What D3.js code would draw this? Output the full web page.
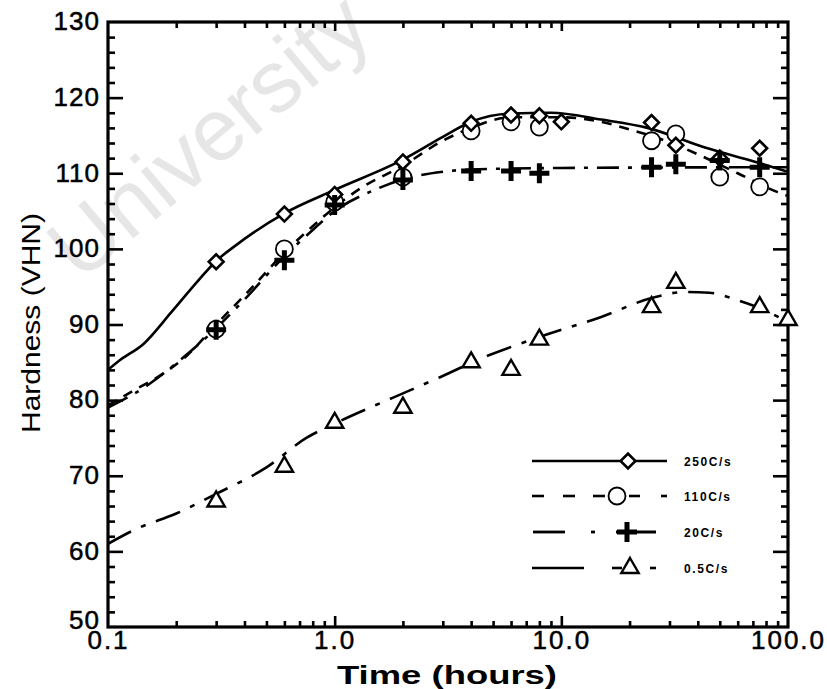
<!DOCTYPE html>
<html>
<head>
<meta charset="utf-8">
<script src="https://cdn.jsdelivr.net/npm/d3@7"></script>
<style>
  html, body { margin: 0; padding: 0; background: #fff; }
  svg { display: block; font-family: "Liberation Sans", Arial, sans-serif; }
  .tick text { fill: #000; }
</style>
</head>
<body>
<svg id="chart" width="827" height="689"></svg>
<script>
// ----- data -----
var seriesNames = ['250C/s', '110C/s', '20C/s', '0.5C/s'];
var xTickLabels = ['0.1', '1.0', '10.0', '100.0'];
var yTickValues = [50, 60, 70, 80, 90, 100, 110, 120, 130];

// measured points [time h, hardness]
var pts250 = [[0.3, 98.3], [0.6, 104.6], [1, 107.2], [2, 111.5], [4, 116.6], [6, 117.7], [8, 117.6], [10, 116.8], [25, 116.7], [32, 113.7], [50, 112], [75, 113.3]];
var pts110 = [[0.3, 89.4], [0.6, 100], [1, 106.2], [2, 109.5], [4, 115.6], [6, 116.8], [8, 116.1], [25, 114.3], [32, 115.2], [50, 109.5], [75, 108.2]];
var pts20 = [[0.3, 89.3], [0.6, 98.5], [1, 105.8], [2, 109.1], [4, 110.3], [6, 110.3], [8, 110], [25, 110.8], [32, 111.2], [50, 111.7], [75, 110.8]];
var pts05 = [[0.3, 66.6], [0.6, 71.2], [1, 77], [2, 79], [4, 85], [6, 84], [8, 88], [25, 92.3], [32, 95.5], [75, 92.3], [100, 90.6]];

// fitted curves drawn through the points
var fit250 = [[0.1, 84], [0.113, 85.3], [0.143, 87.4], [0.19, 91.6], [0.25, 95.8], [0.3, 98.4], [0.36, 100.3], [0.6, 104.7], [1, 107.8], [2, 111.8], [3, 114.8], [4, 116.8], [6, 117.9], [9, 118], [15, 117.1], [24, 116], [43, 113.4], [72, 111.5], [100, 110.2]];
var fit110 = [[0.1, 79.3], [0.13, 81.3], [0.175, 83.5], [0.225, 86], [0.3, 90], [0.42, 94.5], [0.6, 99.5], [0.8, 103], [1, 105.5], [1.3, 108], [2, 111], [3, 114.3], [4, 116], [6, 117.4], [10, 117.4], [15, 116.8], [20, 115.8], [30, 114.1], [40, 112.5], [60, 110], [90, 107.5], [100, 107]];
var fit20 = [[0.1, 79], [0.15, 82], [0.21, 85.4], [0.3, 89.5], [0.4, 93.3], [0.6, 99], [0.8, 102.5], [1, 105], [1.5, 107.8], [2, 109.2], [3, 110.2], [4, 110.5], [10, 110.7], [100, 110.8]];
var fit05 = [[0.1, 61], [0.134, 63], [0.2, 65], [0.3, 67.6], [0.5, 71.1], [0.75, 75], [1, 76.9], [1.8, 80.3], [2.9, 83], [4.5, 85.6], [8.3, 88.5], [15, 91], [25, 93.5], [35, 94.3], [45, 94.2], [60, 93.2], [80, 91.8], [100, 90.3]];

var L = 108, R = 788, T = 22, B = 627;

var svg = d3.select('#chart');
var x = d3.scaleLog().domain([0.1, 100]).range([L, R]);
var y = d3.scaleLinear().domain([50, 130]).range([B, T]);

// scan watermark
svg.append('text')
  .attr('transform', 'translate(80,283) rotate(-40)')
  .attr('font-size', 88)
  .attr('fill', '#e6e6e6')
  .text('University');

// clip for curves
svg.append('clipPath').attr('id', 'plotclip')
  .append('rect').attr('x', L).attr('y', T).attr('width', R - L).attr('height', B - T);

// ----- axes (ticks pointing inward on all four sides) -----
var yMinor = d3.range(52, 130, 2).filter(function (v) { return v % 10 !== 0; });
var yMajor = yTickValues.slice(1, -1);
var xMinor = [], xMajor = [1, 10];
[0.1, 1, 10].forEach(function (d) { for (var k = 2; k <= 9; k++) xMinor.push(+(d * k).toPrecision(3)); });

function tickAxis(axis, vals, size, tx, ty) {
  var g = svg.append('g').attr('transform', 'translate(' + tx + ',' + ty + ')')
    .call(axis.tickValues(vals).tickSize(size).tickFormat(''));
  g.select('.domain').remove();
  g.selectAll('line').attr('stroke', '#000').attr('stroke-width', 2.6);
  return g;
}
tickAxis(d3.axisRight(y), yMinor, 7, L, 0);
tickAxis(d3.axisRight(y), yMajor, 15, L, 0);
tickAxis(d3.axisLeft(y), yMinor, 7, R, 0);
tickAxis(d3.axisLeft(y), yMajor, 15, R, 0);
tickAxis(d3.axisTop(x), xMinor, 6, 0, B);
tickAxis(d3.axisTop(x), xMajor, 11, 0, B);
tickAxis(d3.axisBottom(x), xMinor, 6, 0, T);
tickAxis(d3.axisBottom(x), xMajor, 9, 0, T);

// tick labels
var gyl = svg.append('g').attr('transform', 'translate(' + L + ',0)')
  .call(d3.axisLeft(y).tickValues(yTickValues).tickSize(0).tickPadding(8));
gyl.select('.domain').remove();
gyl.selectAll('text').attr('font-size', 26).attr('font-family', '"Liberation Sans", Arial, sans-serif')
  .attr('letter-spacing', 1).attr('stroke', '#000').attr('stroke-width', 0.5)
  .attr('dy', function (d) { return d === 50 ? '0.05em' : '0.3em'; });

var gxl = svg.append('g').attr('transform', 'translate(0,' + B + ')')
  .call(d3.axisBottom(x).tickValues([0.1, 1, 10, 100]).tickSize(0).tickPadding(4)
    .tickFormat(function (d, i) { return xTickLabels[i]; }));
gxl.select('.domain').remove();
gxl.selectAll('text').attr('font-size', 26).attr('font-family', '"Liberation Sans", Arial, sans-serif')
  .attr('letter-spacing', 2).attr('stroke', '#000').attr('stroke-width', 0.5);

// frame
svg.append('rect').attr('x', L).attr('y', T).attr('width', R - L).attr('height', B - T)
  .attr('fill', 'none').attr('stroke', '#000').attr('stroke-width', 3.2);

// axis titles
svg.append('text')
  .attr('transform', 'translate(40,323) rotate(-90)')
  .attr('text-anchor', 'middle').attr('font-size', 25)
  .attr('textLength', 220).attr('lengthAdjust', 'spacingAndGlyphs')
  .text('Hardness (VHN)');
svg.append('text')
  .attr('x', 447).attr('y', 684)
  .attr('text-anchor', 'middle').attr('font-size', 25).attr('font-weight', 'bold')
  .attr('textLength', 220).attr('lengthAdjust', 'spacingAndGlyphs')
  .text('Time (hours)');

// ----- curves -----
var line = d3.line()
  .x(function (d) { return x(d[0]); })
  .y(function (d) { return y(d[1]); })
  .curve(d3.curveMonotoneX);

var dashes = ['none', '10,8', '22,9,4,9', '26,11,5,11'];
var fits = [fit250, fit110, fit20, fit05];
var gC = svg.append('g').attr('clip-path', 'url(#plotclip)');
fits.forEach(function (f, i) {
  gC.append('path').attr('d', line(f))
    .attr('fill', 'none').attr('stroke', '#000').attr('stroke-width', 2.6)
    .attr('stroke-dasharray', dashes[i]);
});

// ----- markers -----
function marker(g, kind, cx, cy) {
  if (kind === 0) {
    g.append('path').attr('d', d3.symbol().type(d3.symbolSquare).size(110)())
      .attr('transform', 'translate(' + cx + ',' + cy + ') rotate(45)')
      .attr('fill', '#fff').attr('stroke', '#000').attr('stroke-width', 2.6);
  } else if (kind === 1) {
    g.append('circle').attr('cx', cx).attr('cy', cy).attr('r', 8.5)
      .attr('fill', '#fff').attr('stroke', '#000').attr('stroke-width', 1.8);
  } else if (kind === 2) {
    g.append('path').attr('d', 'M' + (cx - 10) + ',' + cy + 'H' + (cx + 10) + 'M' + cx + ',' + (cy - 10) + 'V' + (cy + 10))
      .attr('stroke', '#000').attr('stroke-width', 5);
  } else {
    g.append('path').attr('d', d3.symbol().type(d3.symbolTriangle).size(130)())
      .attr('transform', 'translate(' + cx + ',' + cy + ')')
      .attr('fill', '#fff').attr('stroke', '#000').attr('stroke-width', 2.4);
  }
}
var ptsAll = [pts110, pts250, pts20, pts05];
var kinds = [1, 0, 2, 3];
var gM = svg.append('g');
ptsAll.forEach(function (p, i) {
  p.forEach(function (d) { marker(gM, kinds[i], x(d[0]), y(d[1])); });
});

// ----- legend -----
var legY = [461, 496, 532, 568];
var gL = svg.append('g');
seriesNames.forEach(function (name, i) {
  var ly = legY[i];
  if (i === 0) {
    gL.append('line').attr('x1', 532).attr('x2', 667).attr('y1', ly).attr('y2', ly)
      .attr('stroke', '#000').attr('stroke-width', 2.6);
  } else if (i === 1) {
    [[532, 544], [563, 575], [593, 605], [629, 640], [661, 667]].forEach(function (s) {
      gL.append('line').attr('x1', s[0]).attr('x2', s[1]).attr('y1', ly).attr('y2', ly)
        .attr('stroke', '#000').attr('stroke-width', 2.6);
    });
  } else if (i === 2) {
    [[533, 565], [591, 595], [616, 656]].forEach(function (s) {
      gL.append('line').attr('x1', s[0]).attr('x2', s[1]).attr('y1', ly).attr('y2', ly)
        .attr('stroke', '#000').attr('stroke-width', 2.8);
    });
  } else {
    [[532, 584], [612, 622], [650, 656]].forEach(function (s) {
      gL.append('line').attr('x1', s[0]).attr('x2', s[1]).attr('y1', ly).attr('y2', ly)
        .attr('stroke', '#000').attr('stroke-width', 2.6);
    });
  }
  var mx = [628, 617, 627, 630][i];
  marker(gL, i, mx, ly);
  gL.append('text').attr('x', 684).attr('y', ly + 5)
    .attr('font-size', 12).attr('font-weight', 'bold').attr('letter-spacing', 1.6)
    .text(name);
});
</script>
</body>
</html>
